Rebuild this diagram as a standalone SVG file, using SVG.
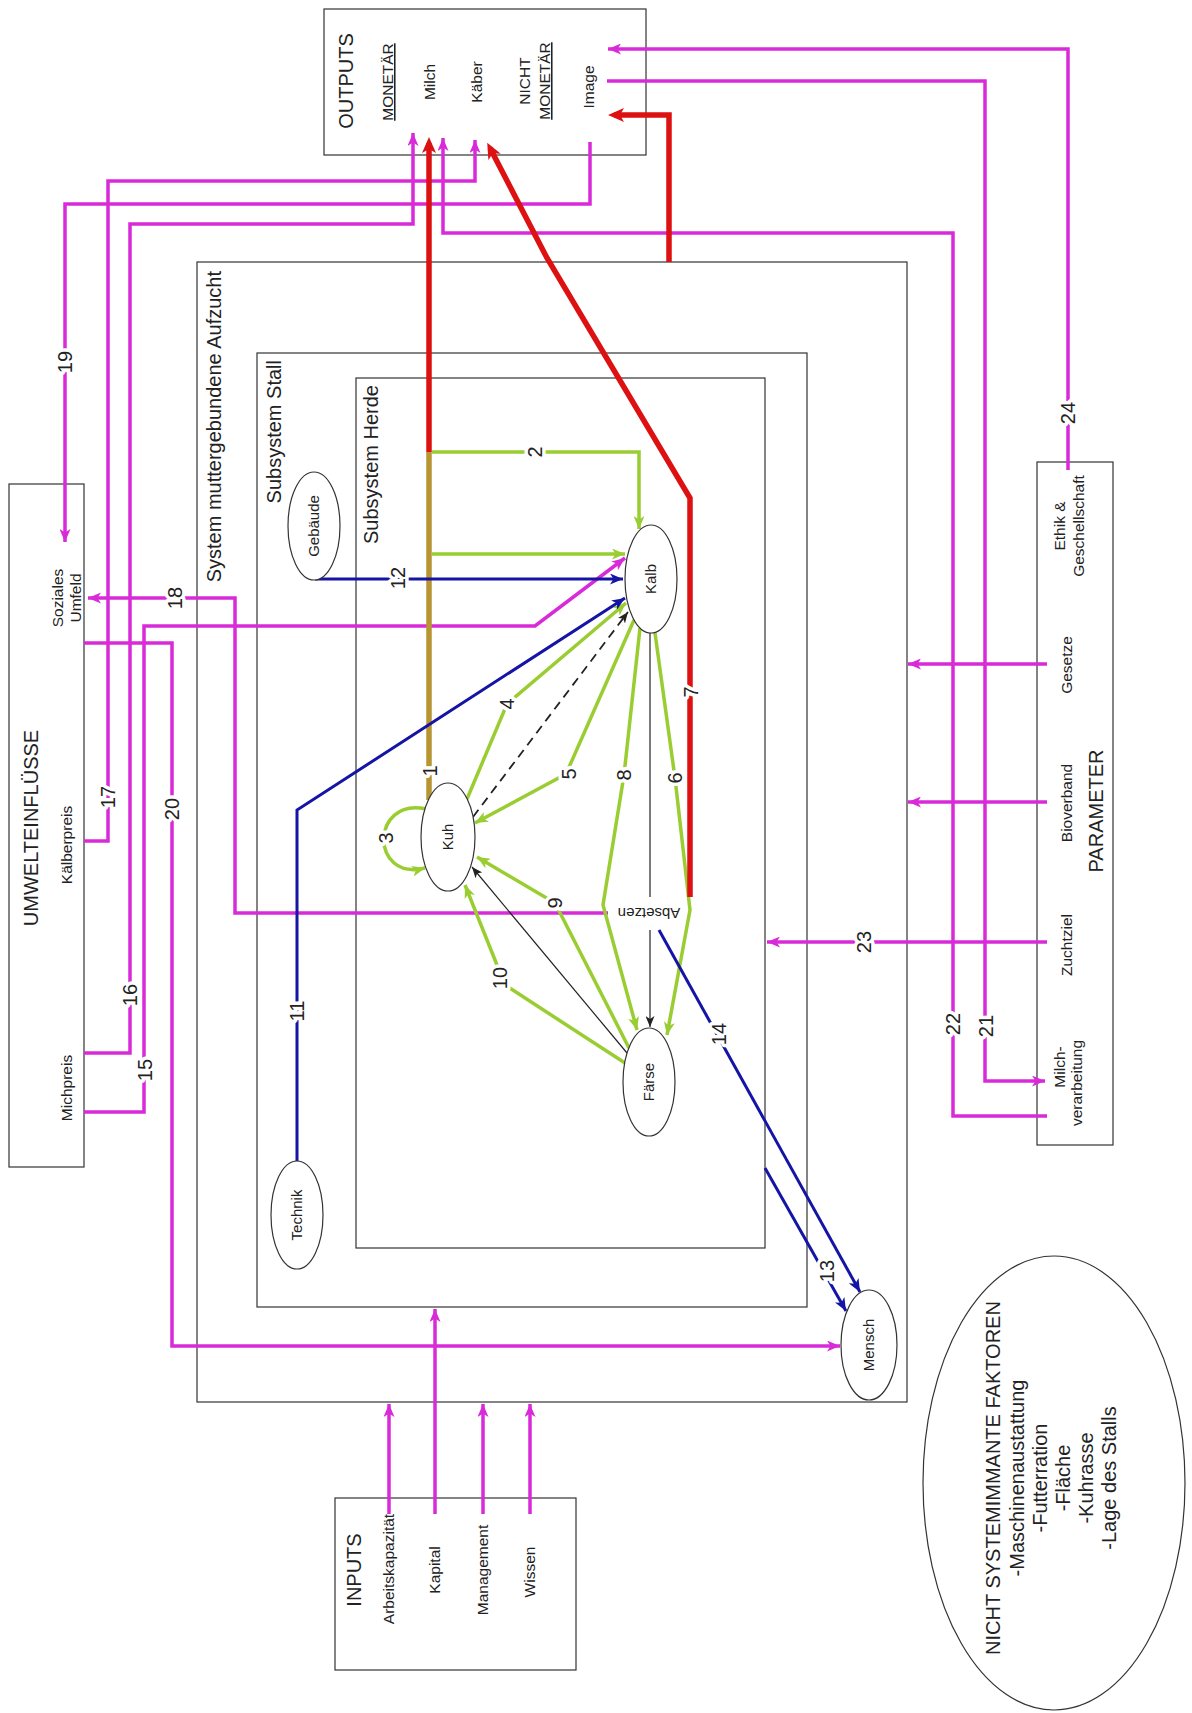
<svg xmlns="http://www.w3.org/2000/svg" width="1192" height="1713" viewBox="0 0 1192 1713">
<style>
.t{font-family:"Liberation Sans",Arial,Helvetica,sans-serif;fill:#222}
.s{font-size:15.5px}
.m{font-size:15px}
.b{font-size:20px}
.n{font-family:"Liberation Sans",Arial,Helvetica,sans-serif;fill:#222;font-size:20px;paint-order:stroke;stroke:#fff;stroke-width:7px;stroke-linejoin:round}
.box{fill:#fff;stroke:#333;stroke-width:1.2}
.nd{fill:#fff;stroke:#333;stroke-width:1.2}
.pk{fill:none;stroke:#d92ad9;stroke-width:3.5;marker-end:url(#aPk)}
.rd{fill:none;stroke:#dd1111;stroke-width:5.5;marker-end:url(#aRd)}
.gr{fill:none;stroke:#9acd32;stroke-width:3.5;marker-end:url(#aGr)}
.bl{fill:none;stroke:#1515a5;stroke-width:3;marker-end:url(#aBl)}
.bk{fill:none;stroke:#222;stroke-width:1.2}
.ba{marker-end:url(#aBk)}
.ds{fill:none;stroke:#222;stroke-width:1.8;stroke-dasharray:9 6;marker-end:url(#aBk)}
</style>
<defs>
<marker id="aPk" markerUnits="userSpaceOnUse" markerWidth="13" markerHeight="11" viewBox="0 0 13 11" refX="13" refY="5.5" orient="auto"><path d="M0,0 L13,5.5 L0,11 L3.5,5.5 Z" fill="#d92ad9"/></marker>
<marker id="aRd" markerUnits="userSpaceOnUse" markerWidth="16" markerHeight="14" viewBox="0 0 16 14" refX="10" refY="7" orient="auto"><path d="M0,0 L16,7 L0,14 L4,7 Z" fill="#dd1111"/></marker>
<marker id="aGr" markerUnits="userSpaceOnUse" markerWidth="13" markerHeight="11" viewBox="0 0 13 11" refX="13" refY="5.5" orient="auto"><path d="M0,0 L13,5.5 L0,11 L3.5,5.5 Z" fill="#9acd32"/></marker>
<marker id="aBl" markerUnits="userSpaceOnUse" markerWidth="13" markerHeight="11" viewBox="0 0 13 11" refX="13" refY="5.5" orient="auto"><path d="M0,0 L13,5.5 L0,11 L3.5,5.5 Z" fill="#1515a5"/></marker>
<marker id="aBk" markerUnits="userSpaceOnUse" markerWidth="11" markerHeight="9" viewBox="0 0 11 9" refX="11" refY="4.5" orient="auto"><path d="M0,0 L11,4.5 L0,9 L3,4.5 Z" fill="#222"/></marker>
</defs>
<rect x="0" y="0" width="1192" height="1713" fill="#fff"/>

<g id="system">
<rect class="box" x="197" y="262" width="710" height="1140"/>
<text class="t b" transform="translate(221,271) rotate(-90)" text-anchor="end">System muttergebundene Aufzucht</text>
</g>
<g id="stall">
<rect class="box" x="257" y="353" width="550" height="954"/>
<text class="t b" transform="translate(281,360) rotate(-90)" text-anchor="end">Subsystem Stall</text>
</g>
<g id="herde">
<rect class="box" x="356" y="378" width="409" height="870"/>
<text class="t b" transform="translate(378,385) rotate(-90)" text-anchor="end">Subsystem Herde</text>
</g>

<g id="outputs">
<rect class="box" x="324" y="9" width="322" height="146"/>
<text class="t b" transform="translate(353,81) rotate(-90)" text-anchor="middle">OUTPUTS</text>
<text class="t s" transform="translate(393,82) rotate(-90)" text-anchor="middle" text-decoration="underline">MONETÄR</text>
<text class="t s" transform="translate(435,82) rotate(-90)" text-anchor="middle">Milch</text>
<text class="t s" transform="translate(482,82) rotate(-90)" text-anchor="middle">Käber</text>
<text class="t s" transform="translate(530,81) rotate(-90)" text-anchor="middle">NICHT</text>
<text class="t s" transform="translate(550,81) rotate(-90)" text-anchor="middle" text-decoration="underline">MONETÄR</text>
<text class="t s" transform="translate(594,87) rotate(-90)" text-anchor="middle">Image</text>
</g>

<g id="umwelt">
<rect class="box" x="9" y="484" width="75" height="683"/>
<text class="t b" transform="translate(38,828) rotate(-90)" text-anchor="middle">UMWELTEINFLÜSSE</text>
<text class="t s" transform="translate(63,598) rotate(-90)" text-anchor="middle">Soziales</text>
<text class="t s" transform="translate(81,598) rotate(-90)" text-anchor="middle">Umfeld</text>
<text class="t s" transform="translate(72,845) rotate(-90)" text-anchor="middle">Kälberpreis</text>
<text class="t s" transform="translate(72,1088) rotate(-90)" text-anchor="middle">Michpreis</text>
</g>

<g id="parameter">
<rect class="box" x="1037" y="462" width="76" height="683"/>
<text class="t s" transform="translate(1065,526) rotate(-90)" text-anchor="middle">Ethik &amp;</text>
<text class="t s" transform="translate(1084,526) rotate(-90)" text-anchor="middle">Geschellschaft</text>
<text class="t s" transform="translate(1072,665) rotate(-90)" text-anchor="middle">Gesetze</text>
<text class="t s" transform="translate(1072,803) rotate(-90)" text-anchor="middle">Bioverband</text>
<text class="t b" transform="translate(1103,811) rotate(-90)" text-anchor="middle">PARAMETER</text>
<text class="t s" transform="translate(1072,945) rotate(-90)" text-anchor="middle">Zuchtziel</text>
<text class="t s" transform="translate(1065,1067) rotate(-90)" text-anchor="middle">Milch-</text>
<text class="t s" transform="translate(1082,1083) rotate(-90)" text-anchor="middle">verarbeitung</text>
</g>

<g id="inputs">
<rect class="box" x="335" y="1498" width="241" height="172"/>
<text class="t b" transform="translate(361,1570) rotate(-90)" text-anchor="middle">INPUTS</text>
<text class="t s" transform="translate(394,1569) rotate(-90)" text-anchor="middle">Arbeitskapazität</text>
<text class="t s" transform="translate(440,1570) rotate(-90)" text-anchor="middle">Kapital</text>
<text class="t s" transform="translate(488,1570) rotate(-90)" text-anchor="middle">Management</text>
<text class="t s" transform="translate(535,1572) rotate(-90)" text-anchor="middle">Wissen</text>
</g>

<g id="nicht-systemimmante-faktoren">
<ellipse class="nd" cx="1054" cy="1483" rx="131" ry="227"/>
<text class="t b" transform="translate(1000,1478) rotate(-90)" text-anchor="middle">NICHT SYSTEMIMMANTE FAKTOREN</text>
<text class="t b" transform="translate(1024,1478) rotate(-90)" text-anchor="middle">-Maschinenaustattung</text>
<text class="t b" transform="translate(1047,1478) rotate(-90)" text-anchor="middle">-Futterration</text>
<text class="t b" transform="translate(1070,1478) rotate(-90)" text-anchor="middle">-Fläche</text>
<text class="t b" transform="translate(1093,1478) rotate(-90)" text-anchor="middle">-Kuhrasse</text>
<text class="t b" transform="translate(1116,1478) rotate(-90)" text-anchor="middle">-Lage des Stalls</text>
</g>

<g id="connectors">
<!-- pink -->
<polyline class="pk" points="1068,470 1068,49 608,49"/>
<polyline class="pk" points="607,81 985,81 985,1081 1045,1081"/>
<polyline class="pk" points="1047,1116 953,1116 953,233 443,233 443,138"/>
<polyline class="pk" points="590,142 590,204 65,204 65,542"/>
<polyline class="pk" points="84,841 108,841 108,181 475,181 475,140"/>
<polyline class="pk" points="84,1053 130,1053 130,224 413,224 413,133"/>
<polyline class="pk" points="84,1112 144,1112 144,626 535,626 625,558"/>
<polyline class="pk" points="84,643 172,643 172,1346 840,1346"/>
<polyline class="pk" points="608,913 235,913 235,598 88,598"/>
<polyline class="pk" points="1047,942 767,942"/>
<polyline class="pk" points="1047,664 908,664"/>
<polyline class="pk" points="1047,802 908,802"/>
<polyline class="pk" points="389,1514 389,1404"/>
<polyline class="pk" points="435,1514 435,1309"/>
<polyline class="pk" points="483,1514 483,1404"/>
<polyline class="pk" points="530,1514 530,1404"/>
<!-- green -->
<polyline class="gr" points="432,452 639,452 639,529"/>
<polyline class="gr" points="432,554 625,554"/>
<polyline class="gr" points="467,799 507,704 626,603"/>
<polyline class="gr" points="634,620 566,774 475,823"/>
<polyline class="gr" points="640,628 624,775 603,905 637,1030"/>
<polyline class="gr" points="655,633 675,778 690,910 667,1035"/>
<polyline class="gr" points="629,1048 555,903 477,857"/>
<polyline class="gr" points="625,1063 505,985 465,885"/>
<path class="gr" d="M426,809 C370,797 370,882 425,868"/>
<!-- red -->
<line x1="429" y1="800" x2="429" y2="452" stroke="#b79532" stroke-width="5.5"/>
<polyline class="rd" points="429,452 429,143"/>
<polyline class="rd" points="690,897 690,498 547,258 490,148"/>
<polyline class="rd" points="669,262 669,115 614,115"/>
<!-- blue -->
<polyline class="bl" points="297,1162 297,810 625,598"/>
<polyline class="bl" points="315,579 623,579"/>
<polyline class="bl" points="659,930 860,1292"/>
<polyline class="bl" points="765,1168 846,1311"/>
<!-- black -->
<line class="bk" x1="650" y1="633" x2="650" y2="897"/>
<line class="bk ba" x1="650" y1="930" x2="650" y2="1027"/>
<line class="bk ba" x1="627" y1="1053" x2="472" y2="867"/>
<line class="ds" x1="473" y1="817" x2="628" y2="612"/>
<!-- labels -->
<text class="n" transform="translate(430,771) rotate(-90)" text-anchor="middle" dy="0.35em">1</text>
<text class="n" transform="translate(535,452) rotate(-90)" text-anchor="middle" dy="0.35em">2</text>
<text class="n" transform="translate(386,838) rotate(-90)" text-anchor="middle" dy="0.35em">3</text>
<text class="n" transform="translate(507,704) rotate(-90)" text-anchor="middle" dy="0.35em">4</text>
<text class="n" transform="translate(569,774) rotate(-90)" text-anchor="middle" dy="0.35em">5</text>
<text class="n" transform="translate(675,778) rotate(-90)" text-anchor="middle" dy="0.35em">6</text>
<text class="n" transform="translate(691,692) rotate(-90)" text-anchor="middle" dy="0.35em">7</text>
<text class="n" transform="translate(624,775) rotate(-90)" text-anchor="middle" dy="0.35em">8</text>
<text class="n" transform="translate(555,903) rotate(-90)" text-anchor="middle" dy="0.35em">9</text>
<text class="n" transform="translate(500,978) rotate(-90)" text-anchor="middle" dy="0.35em">10</text>
<text class="n" transform="translate(297,1011) rotate(-90)" text-anchor="middle" dy="0.35em">11</text>
<text class="n" transform="translate(398,578) rotate(-90)" text-anchor="middle" dy="0.35em">12</text>
<text class="n" transform="translate(827,1271) rotate(-90)" text-anchor="middle" dy="0.35em">13</text>
<text class="n" transform="translate(719,1034) rotate(-90)" text-anchor="middle" dy="0.35em">14</text>
<text class="n" transform="translate(145,1070) rotate(-90)" text-anchor="middle" dy="0.35em">15</text>
<text class="n" transform="translate(130,995) rotate(-90)" text-anchor="middle" dy="0.35em">16</text>
<text class="n" transform="translate(108,797) rotate(-90)" text-anchor="middle" dy="0.35em">17</text>
<text class="n" transform="translate(175,598) rotate(-90)" text-anchor="middle" dy="0.35em">18</text>
<text class="n" transform="translate(65,362) rotate(-90)" text-anchor="middle" dy="0.35em">19</text>
<text class="n" transform="translate(172,809) rotate(-90)" text-anchor="middle" dy="0.35em">20</text>
<text class="n" transform="translate(986,1026) rotate(-90)" text-anchor="middle" dy="0.35em">21</text>
<text class="n" transform="translate(953,1024) rotate(-90)" text-anchor="middle" dy="0.35em">22</text>
<text class="n" transform="translate(864,942) rotate(-90)" text-anchor="middle" dy="0.35em">23</text>
<text class="n" transform="translate(1068,413) rotate(-90)" text-anchor="middle" dy="0.35em">24</text>
<text class="t m" transform="translate(649,913) rotate(180)" text-anchor="middle" dy="0.35em">Absetzen</text>
</g>

<g id="gebaeude"><ellipse class="nd" cx="314" cy="526" rx="26" ry="54"/><text class="t m" transform="translate(314,526) rotate(-90)" text-anchor="middle" dy="0.35em">Gebäude</text></g>
<g id="kalb"><ellipse class="nd" cx="651" cy="579" rx="26" ry="54"/><text class="t m" transform="translate(651,579) rotate(-90)" text-anchor="middle" dy="0.35em">Kalb</text></g>
<g id="kuh"><ellipse class="nd" cx="448" cy="837" rx="27" ry="54"/><text class="t m" transform="translate(448,837) rotate(-90)" text-anchor="middle" dy="0.35em">Kuh</text></g>
<g id="faerse"><ellipse class="nd" cx="649" cy="1082" rx="26" ry="54"/><text class="t m" transform="translate(649,1082) rotate(-90)" text-anchor="middle" dy="0.35em">Färse</text></g>
<g id="technik"><ellipse class="nd" cx="297" cy="1215" rx="26" ry="54"/><text class="t m" transform="translate(297,1215) rotate(-90)" text-anchor="middle" dy="0.35em">Technik</text></g>
<g id="mensch"><ellipse class="nd" cx="869" cy="1345" rx="28" ry="55"/><text class="t m" transform="translate(869,1345) rotate(-90)" text-anchor="middle" dy="0.35em">Mensch</text></g>
</svg>
